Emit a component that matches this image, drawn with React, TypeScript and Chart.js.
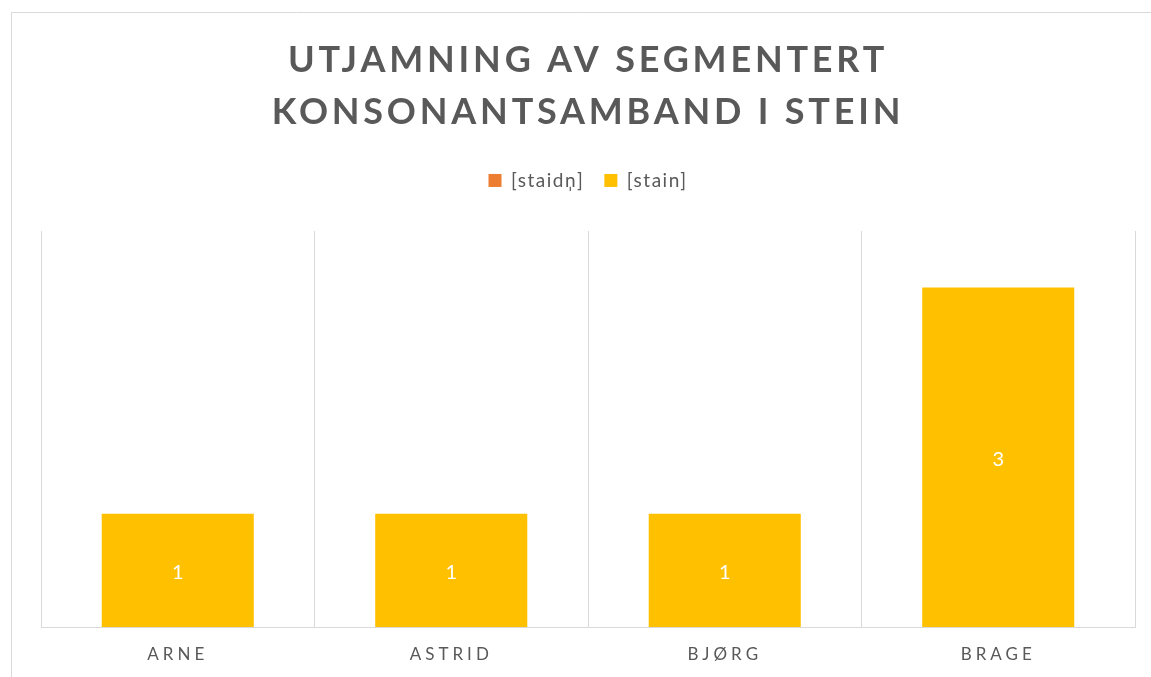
import React, { useEffect, useRef } from "react";
import { Chart, registerables } from "chart.js";

Chart.register(...registerables);

const categories = ["ARNE", "ASTRID", "BJØRG", "BRAGE"];
const seriesLabels = ["[staidn\u0329]", "[stain]"];
const staidnValues = [0, 0, 0, 0];
const stainValues = [1, 1, 1, 3];
const titleLines = ["UTJAMNING AV SEGMENTERT", "KONSONANTSAMBAND I STEIN"];
const yMax = 3.5;

const TEXT = "#595959";
const GRID = "#d9d9d9";
const FONT = "Lato";

export default function App() {
  const ref = useRef<HTMLCanvasElement | null>(null);

  useEffect(() => {
    if (!ref.current) return;

    const frame = {
      id: "frame",
      beforeDraw(chart: any) {
        const ctx = chart.ctx;
        ctx.save();
        ctx.fillStyle = "#ffffff";
        ctx.fillRect(0, 0, chart.width, chart.height);
        ctx.strokeStyle = GRID;
        ctx.lineWidth = 1;
        ctx.beginPath();
        ctx.moveTo(11.5, chart.height);
        ctx.lineTo(11.5, 12.5);
        ctx.lineTo(chart.width, 12.5);
        ctx.stroke();
        ctx.restore();
      },
    };

    const spaced = (fn: any, spacing: string) =>
      function (this: any, ...args: any[]) {
        const ctx = this.ctx;
        const prev = ctx.letterSpacing;
        ctx.letterSpacing = spacing;
        const r = fn.apply(this, args);
        ctx.letterSpacing = prev;
        return r;
      };

    const tweaks = {
      id: "tweaks",
      afterInit(chart: any) {
        const tb = chart.titleBlock;
        if (tb) tb.draw = spaced(tb.draw, "3.8px");
        const lg = chart.legend;
        if (lg) {
          const of = spaced(lg.fit, "1.5px");
          lg.fit = function (...args: any[]) {
            of.apply(this, args);
            this.height += 31;
          };
          lg.draw = spaced(lg.draw, "1.5px");
        }
      },
      afterDatasetsDraw(chart: any) {
        const ctx = chart.ctx;
        const meta = chart.getDatasetMeta(1);
        const data = chart.data.datasets[1].data;
        ctx.save();
        ctx.fillStyle = "#ffffff";
        ctx.font = `20px ${FONT}`;
        ctx.textAlign = "center";
        ctx.textBaseline = "middle";
        meta.data.forEach((bar: any, i: number) => {
          const v = data[i];
          if (!v) return;
          ctx.fillText(String(v), bar.x, (bar.y + bar.base) / 2 + 2);
        });
        ctx.restore();
        ctx.letterSpacing = "4px";
      },
      afterDraw(chart: any) {
        chart.ctx.letterSpacing = "0px";
      },
    };

    const chart = new Chart(ref.current, {
      type: "bar",
      data: {
        labels: categories,
        datasets: [
          {
            label: seriesLabels[0],
            data: staidnValues,
            backgroundColor: "#ED7D31",
            barPercentage: 0.556,
            categoryPercentage: 1,
          },
          {
            label: seriesLabels[1],
            data: stainValues,
            backgroundColor: "#FFC000",
            barPercentage: 0.556,
            categoryPercentage: 1,
          },
        ],
      },
      options: {
        responsive: false,
        animation: false,
        devicePixelRatio: 1,
        layout: { padding: { top: 10, left: 41, right: 16, bottom: 0 } },
        plugins: {
          title: {
            display: true,
            text: titleLines,
            color: TEXT,
            font: { family: FONT, size: 36, weight: "bold", lineHeight: 1.43 },
            padding: { top: 25, bottom: 13 },
          },
          legend: {
            display: true,
            position: "top",
            labels: {
              color: TEXT,
              font: { family: FONT, size: 19 },
              boxWidth: 13,
              boxHeight: 13,
              padding: 20,
            },
          },
          tooltip: { enabled: false },
        },
        scales: {
          x: {
            stacked: true,
            grid: { color: GRID, drawTicks: false, offset: true },
            border: { color: GRID },
            ticks: { color: TEXT, font: { family: FONT, size: 17 }, padding: 17, z: 1 },
            afterFit(scale: any) {
              scale.height = 50;
            },
          },
          y: {
            stacked: true,
            display: false,
            min: 0,
            max: yMax,
          },
        },
      },
      plugins: [frame, tweaks],
    });

    return () => chart.destroy();
  }, []);

  return (
    <div style={{ position: "fixed", left: 0, top: 0, width: 1151, height: 677, background: "#fff" }}>
      <canvas ref={ref} width={1151} height={677} />
    </div>
  );
}
